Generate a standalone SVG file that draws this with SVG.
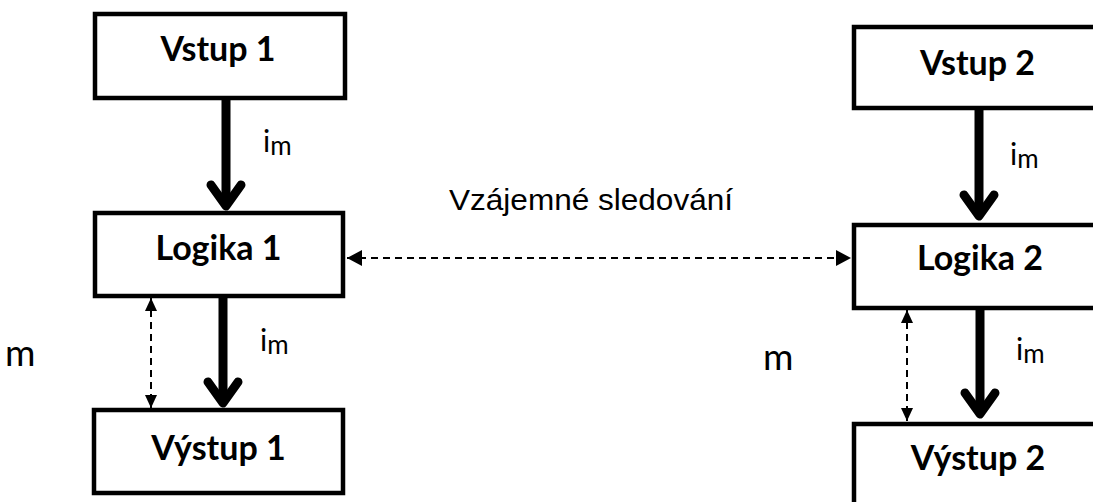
<svg xmlns="http://www.w3.org/2000/svg" width="1093" height="502" viewBox="0 0 1093 502">
<style>
.box{fill:#fff;stroke:#000;stroke-width:4.5}
.lbl{font-family:Lato,"Open Sans","Liberation Sans",sans-serif;font-weight:bold;font-size:34px;text-anchor:middle;fill:#000}
.im{font-family:Lato,"Open Sans","Liberation Sans",sans-serif;font-size:30px;fill:#000}
.m{font-family:Lato,"Open Sans","Liberation Sans",sans-serif;font-size:37px;fill:#000}
.mut{font-family:"Liberation Sans",Arial,sans-serif;font-size:29px;fill:#000}
.thick{fill:none;stroke:#000;stroke-width:9;stroke-linecap:round;stroke-linejoin:round}
.dash{fill:none;stroke:#000;stroke-width:2;stroke-dasharray:7,5}
</style>
<defs>
<marker id="hs" markerUnits="userSpaceOnUse" markerWidth="13" markerHeight="12" refX="13" refY="6" orient="auto-start-reverse"><path d="M0,0 L13,6 L0,12 z" fill="#000"/></marker>
<marker id="hl" markerUnits="userSpaceOnUse" markerWidth="15" markerHeight="16" refX="15" refY="8" orient="auto-start-reverse"><path d="M0,0 L15,8 L0,16 z" fill="#000"/></marker>
</defs>
<rect width="1093" height="502" fill="#fff"/>
<g id="connectors">
<path class="thick" d="M226,100 L226,204"/>
<path class="thick" d="M211,185 L226,206 L241,185"/>
<path class="thick" d="M223,298 L223,401"/>
<path class="thick" d="M208,382 L223,403 L238,382"/>
<path class="thick" d="M979,110 L979,214"/>
<path class="thick" d="M964,195 L979,216 L994,195"/>
<path class="thick" d="M980,310 L980,412"/>
<path class="thick" d="M965,393 L980,414 L995,393"/>
<path class="dash" d="M151,298 L151,408" marker-start="url(#hs)" marker-end="url(#hs)"/>
<path class="dash" d="M907,310 L907,421" marker-start="url(#hs)" marker-end="url(#hs)"/>
<path class="dash" d="M347,258 L851,258" marker-start="url(#hl)" marker-end="url(#hl)"/>
<text class="im" x="263" y="152">i<tspan font-size="26" dy="3">m</tspan></text>
<text class="im" x="260" y="351">i<tspan font-size="26" dy="3">m</tspan></text>
<text class="im" x="1010" y="165">i<tspan font-size="26" dy="3">m</tspan></text>
<text class="im" x="1016" y="360">i<tspan font-size="26" dy="3">m</tspan></text>
<text class="m" x="5" y="366">m</text>
<text class="m" x="763" y="370">m</text>
<text class="mut" x="449" y="210" textLength="284" lengthAdjust="spacingAndGlyphs">Vzájemné sledování</text>
</g>
<g id="vstup1"><rect class="box" x="95" y="14" width="250" height="84"/><text class="lbl" x="218" y="61">Vstup 1</text></g>
<g id="logika1"><rect class="box" x="95" y="213" width="248" height="83"/><text class="lbl" x="218.5" y="260">Logika 1</text></g>
<g id="vystup1"><rect class="box" x="94" y="410" width="249" height="83"/><text class="lbl" x="218.5" y="460">Výstup 1</text></g>
<g id="vstup2"><rect class="box" x="854" y="27" width="250" height="81"/><text class="lbl" x="977.5" y="75">Vstup 2</text></g>
<g id="logika2"><rect class="box" x="854" y="225" width="250" height="83"/><text class="lbl" x="980" y="270">Logika 2</text></g>
<g id="vystup2"><rect class="box" x="854" y="424" width="250" height="90"/><text class="lbl" x="978" y="470">Výstup 2</text></g>
</svg>
